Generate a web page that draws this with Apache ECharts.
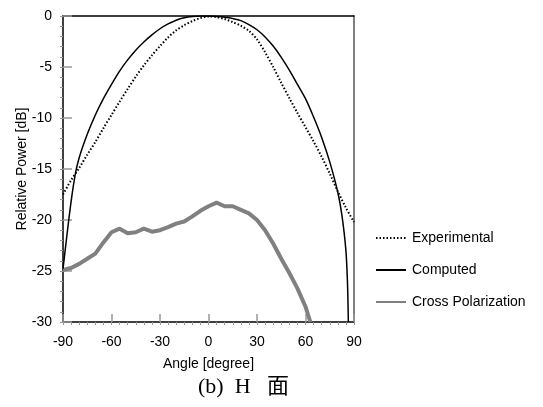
<!DOCTYPE html>
<html>
<head>
<meta charset="utf-8">
<script src="https://cdn.jsdelivr.net/npm/echarts@6/dist/echarts.min.js"></script>
<style>html,body{margin:0;padding:0;background:#fff}#c{width:543px;height:407px}</style>
</head>
<body>
<div id="c"></div>
<script>
const xTicks = [-90, -60, -30, 0, 30, 60, 90];
const yTicks = [-30, -25, -20, -15, -10, -5, 0];

const expAngles = [-90,-85,-80,-75,-70,-65,-60,-55,-50,-45,-40,-35,-30,-25,-20,-15,-10,-5,0,5,10,15,20,25,30,35,40,45,50,55,60,65,70,75,80,85,90];
const expValues = [-17.5,-16.1,-14.9,-13.6,-12.35,-11.0,-9.7,-8.4,-7.15,-5.95,-4.85,-3.85,-2.95,-2.1,-1.4,-0.9,-0.5,-0.2,-0.05,-0.1,-0.3,-0.6,-0.95,-1.45,-2.3,-3.55,-5.0,-6.55,-8.05,-9.5,-10.9,-12.3,-13.8,-15.45,-17.2,-18.8,-20.2];

const compAngles = [-90,-87.5,-85,-82.5,-80,-75,-70,-65,-60,-55,-50,-45,-40,-35,-30,-25,-20,-15,-10,-5,0,5,10,15,20,25,30,35,40,45,50,55,60,65,70,75,80,82.5,85,86,86.5];
const compValues = [-24.8,-21.4,-18.2,-15.6,-13.9,-11.6,-9.7,-8.1,-6.7,-5.4,-4.3,-3.35,-2.55,-1.85,-1.25,-0.78,-0.42,-0.18,-0.05,0,0,-0.05,-0.12,-0.25,-0.45,-0.85,-1.35,-2.05,-2.95,-4.05,-5.3,-6.7,-8.1,-9.9,-11.9,-14.3,-17.3,-19.5,-23.0,-26.3,-30];

const crossAngles = [-90,-85,-80,-75,-70,-65,-60,-55,-50,-45,-40,-35,-30,-25,-20,-15,-10,-5,0,5,10,15,20,25,30,35,40,45,50,55,60,63];
const crossValues = [-24.9,-24.7,-24.3,-23.8,-23.3,-22.2,-21.2,-20.85,-21.3,-21.2,-20.85,-21.15,-21.0,-20.7,-20.35,-20.15,-19.65,-19.1,-18.65,-18.3,-18.65,-18.65,-19.0,-19.35,-20.0,-21.0,-22.3,-23.8,-25.2,-26.7,-28.5,-30];

const seriesNames = ['Experimental', 'Computed', 'Cross Polarization'];

function pairs(a, v) { return a.map((x, i) => [x, v[i]]); }

const FONT = 'Liberation Sans';
const chart = echarts.init(document.getElementById('c'), null, {renderer: 'canvas'});
const axBase = {type: 'value', splitLine: {show: false}};
chart.setOption({
  animation: false,
  backgroundColor: '#fff',
  title: {
    text: '(b)  H   面',
    left: 193, top: 371,
    textStyle: {fontFamily: 'Liberation Serif, Noto Sans CJK JP', fontSize: 22, fontWeight: 'normal', color: '#000'}
  },
  legend: {
    orient: 'vertical',
    left: 370, top: 226,
    itemWidth: 30, itemHeight: 14, itemGap: 18,
    data: seriesNames,
    itemStyle: {opacity: 0},
    textStyle: {fontFamily: FONT, fontSize: 14, color: '#000', padding: [0, 0, 0, 1]}
  },
  grid: {left: 63, right: 189, top: 16, bottom: 85, containLabel: false},
  xAxis: [
    Object.assign({}, axBase, {
      min: -90, max: 90, interval: 30, position: 'bottom',
      axisLine: {show: true, onZero: false, lineStyle: {color: '#000', width: 1.5}},
      axisTick: {show: true, inside: true, length: 8, lineStyle: {color: '#999', width: 1.5}},
      axisLabel: {show: true, margin: 13, fontFamily: FONT, fontSize: 14, color: '#000',
        formatter: v => xTicks.includes(v) ? String(v) : ''},
      name: 'Angle [degree]', nameLocation: 'middle', nameGap: 35,
      nameTextStyle: {fontFamily: FONT, fontSize: 14, color: '#000'}
    }),
    Object.assign({}, axBase, {
      min: -90, max: 90, interval: 5, position: 'bottom',
      axisLine: {show: false, onZero: false},
      axisTick: {show: true, inside: false, length: 3, lineStyle: {color: '#999', width: 1}},
      axisLabel: {show: false}
    }),
    Object.assign({}, axBase, {
      min: -90, max: 90, interval: 30, position: 'top',
      axisLine: {show: true, onZero: false, lineStyle: {color: '#000', width: 1.5}},
      axisTick: {show: false}, axisLabel: {show: false}
    })
  ],
  yAxis: [
    Object.assign({}, axBase, {
      min: -30, max: 0, interval: 5, position: 'left',
      axisLine: {show: true, onZero: false, lineStyle: {color: '#000', width: 1.5}},
      axisTick: {show: true, inside: true, length: 9, lineStyle: {color: '#999', width: 1.5}},
      axisLabel: {show: true, margin: 11, fontFamily: FONT, fontSize: 14, color: '#000',
        formatter: v => yTicks.includes(v) ? String(v) : ''},
      name: 'Relative Power [dB]', nameLocation: 'middle', nameGap: 34, nameMoveOverlap: false,
      nameTextStyle: {fontFamily: FONT, fontSize: 14, color: '#000'}
    }),
    Object.assign({}, axBase, {
      min: -30, max: 0, interval: 1, position: 'left',
      axisLine: {show: false, onZero: false},
      axisTick: {show: true, inside: false, length: 3, lineStyle: {color: '#999', width: 1}},
      axisLabel: {show: false}
    }),
    Object.assign({}, axBase, {
      min: -30, max: 0, interval: 5, position: 'right',
      axisLine: {show: true, onZero: false, lineStyle: {color: '#555', width: 1.5}},
      axisTick: {show: false}, axisLabel: {show: false}
    })
  ],
  series: [
    {name: seriesNames[0], type: 'line', data: pairs(expAngles, expValues), symbol: 'none', smooth: 0.3,
      lineStyle: {color: '#000', width: 2, type: [1.5, 2]}, itemStyle: {color: '#000'}, z: 3},
    {name: seriesNames[1], type: 'line', data: pairs(compAngles, compValues), symbol: 'none', smooth: 0.3,
      lineStyle: {color: '#000', width: 1.5}, itemStyle: {color: '#000'}, z: 4},
    {name: seriesNames[2], type: 'line', data: pairs(crossAngles, crossValues), symbol: 'none',
      lineStyle: {color: '#808080', width: 4}, itemStyle: {color: '#808080'}, z: 2}
  ]
});
</script>
</body>
</html>
